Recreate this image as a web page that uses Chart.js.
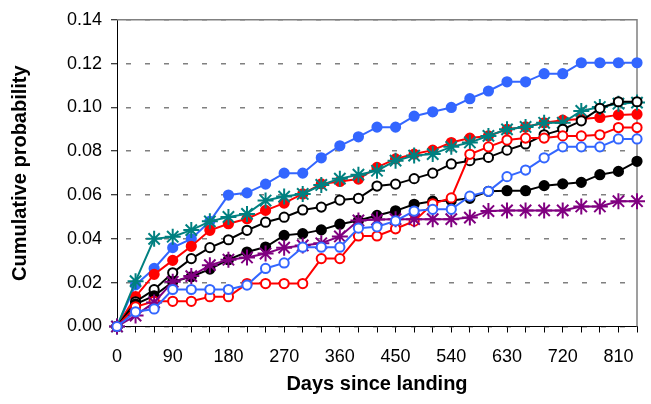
<!DOCTYPE html>
<html>
<head>
<meta charset="utf-8">
<script src="https://cdn.jsdelivr.net/npm/chart.js@4/dist/chart.umd.min.js"></script>
<style>
  body { margin: 0; background: #fff; }
  #wrap { width: 651px; height: 404px; }
</style>
</head>
<body>
<div id="wrap"><canvas id="cumChart" width="651" height="404"></canvas></div>
<script>
// days since landing, one point every 30 days
const days = [0, 30, 60, 90, 120, 150, 180, 210, 240, 270, 300, 330, 360, 390, 420,
              450, 480, 510, 540, 570, 600, 630, 660, 690, 720, 750, 780, 810, 840];
const xLabelDays = [0, 90, 180, 270, 360, 450, 540, 630, 720, 810];
const yTicks = [0, 0.02, 0.04, 0.06, 0.08, 0.10, 0.12, 0.14];

const blueFilled = [0, 0.019, 0.0265, 0.036, 0.040, 0.048, 0.060, 0.061, 0.065, 0.070, 0.070, 0.077, 0.0825, 0.0866, 0.091,
                    0.091, 0.096, 0.098, 0.100, 0.104, 0.1075, 0.1117, 0.1117, 0.1154, 0.1154, 0.1204, 0.1204, 0.1204, 0.1204];
const tealStar = [0, 0.0207, 0.040, 0.041, 0.044, 0.048, 0.050, 0.0514, 0.0575, 0.0593, 0.0605, 0.0646, 0.0675, 0.0693, 0.0711,
                  0.0757, 0.078, 0.0787, 0.082, 0.084, 0.087, 0.090, 0.0911, 0.093, 0.093, 0.0984, 0.1002, 0.1017, 0.1022];
const redFilled = [0, 0.0136, 0.0238, 0.0302, 0.0366, 0.0439, 0.0469, 0.0492, 0.053, 0.0563, 0.0605, 0.0651, 0.0662, 0.0673, 0.0726,
                   0.0765, 0.0787, 0.0805, 0.084, 0.086, 0.087, 0.090, 0.0911, 0.093, 0.0942, 0.0947, 0.0954, 0.0966, 0.0969];
const blackOpen = [0, 0.0113, 0.0168, 0.0245, 0.031, 0.036, 0.0396, 0.0439, 0.0476, 0.0499, 0.0532, 0.0545, 0.0577, 0.0585, 0.0641,
                   0.065, 0.0675, 0.070, 0.0742, 0.0757, 0.0772, 0.0805, 0.0833, 0.0875, 0.090, 0.0939, 0.0996, 0.1026, 0.1026];
const redOpen = [0, 0.009, 0.0115, 0.0115, 0.0115, 0.0136, 0.0136, 0.0196, 0.0196, 0.0196, 0.0196, 0.031, 0.031, 0.0413, 0.0413,
                 0.0446, 0.0481, 0.056, 0.0587, 0.0786, 0.082, 0.0851, 0.086, 0.086, 0.087, 0.087, 0.0875, 0.0908, 0.0908];
const blueOpen = [0, 0.0067, 0.008, 0.0169, 0.0169, 0.0169, 0.0169, 0.0189, 0.0265, 0.029, 0.0362, 0.0362, 0.0362, 0.0449, 0.0455,
                  0.0482, 0.0527, 0.0535, 0.0535, 0.0595, 0.0617, 0.0684, 0.0714, 0.077, 0.082, 0.082, 0.082, 0.0856, 0.0856];
const blackFilled = [0, 0.0102, 0.014, 0.0204, 0.0227, 0.0262, 0.0305, 0.034, 0.0363, 0.0416, 0.0424, 0.0441, 0.0467, 0.0484, 0.0507,
                     0.0528, 0.0558, 0.0572, 0.0575, 0.0585, 0.0617, 0.062, 0.062, 0.0643, 0.0651, 0.0658, 0.0693, 0.0708, 0.0754];
const purpleStar = [0, 0.005, 0.011, 0.0204, 0.023, 0.028, 0.0305, 0.0315, 0.0333, 0.036, 0.037, 0.038, 0.0411, 0.0484, 0.0488,
                    0.049, 0.049, 0.049, 0.049, 0.0497, 0.0527, 0.053, 0.053, 0.053, 0.053, 0.0548, 0.0548, 0.0572, 0.0572];

const BLUE = '#3366ff', RED = '#ff0000', TEAL = '#008080', PURPLE = '#800080', BLACK = '#000000';

function series(values, color, style) {
  const open = style === 'open';
  const star = style === 'star';
  return {
    data: values.map((v, i) => ({ x: days[i], y: v })),
    borderColor: color,
    borderWidth: 2,
    pointStyle: star ? 'star' : 'circle',
    pointRadius: star ? 8 : 4.6,
    pointHoverRadius: star ? 8 : 4.6,
    pointBorderColor: color,
    pointBackgroundColor: open ? '#ffffff' : color,
    pointBorderWidth: 2,
    fill: false,
    tension: 0,
    clip: false
  };
}

// plot area border (top and right) in grey, like the spreadsheet original
const plotBorder = {
  id: 'plotBorder',
  beforeDatasetsDraw(chart) {
    const { ctx, chartArea: a } = chart;
    ctx.save();
    ctx.strokeStyle = '#808080';
    ctx.lineWidth = 1.5;
    ctx.beginPath();
    ctx.moveTo(a.left, a.top);
    ctx.lineTo(a.right, a.top);
    ctx.lineTo(a.right, a.bottom);
    ctx.stroke();
    ctx.restore();
  }
};

Chart.defaults.font.family = '"Liberation Sans", Arial, sans-serif';
Chart.defaults.color = '#000';

new Chart(document.getElementById('cumChart').getContext('2d'), {
  type: 'line',
  data: {
    datasets: [
      series(blueOpen, BLUE, 'open'),
      series(purpleStar, PURPLE, 'star'),
      series(redOpen, RED, 'open'),
      series(blackFilled, BLACK, 'filled'),
      series(blackOpen, BLACK, 'open'),
      series(tealStar, TEAL, 'star'),
      series(redFilled, RED, 'filled'),
      series(blueFilled, BLUE, 'filled')
    ]
  },
  options: {
    responsive: false,
    animation: false,
    layout: { padding: { top: 18, right: 3, left: 0, bottom: 0 } },
    plugins: { legend: { display: false }, tooltip: { enabled: false } },
    scales: {
      x: {
        type: 'linear',
        min: days[0],
        max: days[days.length - 1],
        afterFit: s => { s.height = 77.5; },
        ticks: {
          stepSize: 30,
          autoSkip: false,
          maxRotation: 0,
          padding: 14,
          font: { size: 18 },
          callback: v => (xLabelDays.includes(v) ? String(v) : '')
        },
        grid: { drawOnChartArea: false, drawTicks: true, tickLength: 6, tickColor: BLACK },
        border: { color: BLACK, width: 1 },
        title: {
          display: true,
          text: 'Days since landing',
          font: { size: 20, weight: 'bold' },
          padding: { top: 0, bottom: 8 }
        }
      },
      y: {
        min: yTicks[0],
        max: yTicks[yTicks.length - 1],
        afterFit: s => { s.width = 117; },
        afterBuildTicks: s => { s.ticks = yTicks.map(v => ({ value: v })); },
        ticks: {
          padding: 9,
          font: { size: 18 },
          callback: v => Number(v).toFixed(2)
        },
        grid: { color: '#808080', lineWidth: 1.5, tickLength: 6, tickColor: BLACK, tickWidth: 1 },
        border: { color: BLACK, width: 1, dash: [5, 14], dashOffset: 11 },
        title: {
          display: true,
          text: 'Cumulative probability',
          font: { size: 20, weight: 'bold' },
          padding: { top: 8, bottom: 0 }
        }
      }
    }
  },
  plugins: [plotBorder]
});
</script>
</body>
</html>
